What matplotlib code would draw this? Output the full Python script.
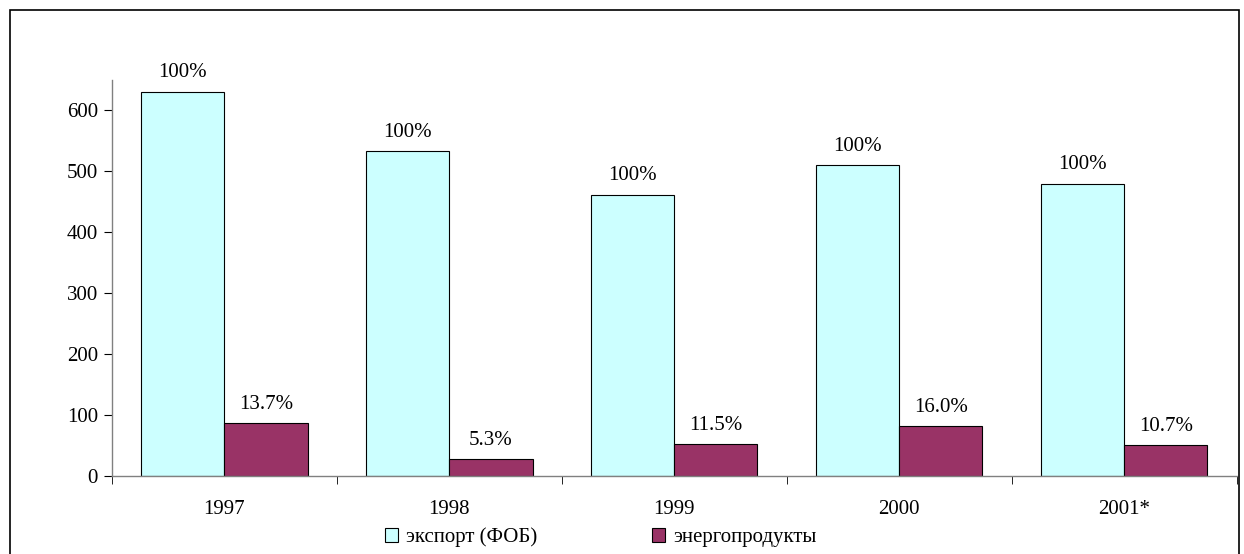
import matplotlib

matplotlib.use("Agg")
import matplotlib.pyplot as plt
from matplotlib.patches import Patch, Rectangle

years = ["1997", "1998", "1999", "2000", "2001*"]
export_fob = [631, 534, 462, 510, 480]
energy = [87, 28, 53, 82, 51]
export_labels = ["100%", "100%", "100%", "100%", "100%"]
energy_labels = ["13.7%", "5.3%", "11.5%", "16.0%", "10.7%"]

plt.rcParams["font.family"] = ["Liberation Serif", "DejaVu Serif"]
plt.rcParams["font.size"] = 15

fig = plt.figure(figsize=(12.44, 5.54), dpi=100)
ax = fig.add_axes([0.090, 0.1408, 0.904, 0.7148])

width = 0.37
x = range(len(years))
ax.bar([i - width / 2 for i in x], export_fob, width, color="#CCFFFF",
       edgecolor="black", linewidth=0.8)
ax.bar([i + width / 2 for i in x], energy, width, color="#993366",
       edgecolor="black", linewidth=0.8)

for i in x:
    ax.text(i - width / 2, export_fob[i] + 15, export_labels[i],
            ha="center", va="bottom", fontsize=15)
    ax.text(i + width / 2, energy[i] + 15, energy_labels[i],
            ha="center", va="bottom", fontsize=15)

ax.set_xlim(-0.5, len(years) - 0.5)
ax.set_ylim(0, 650)
ax.set_yticks(range(0, 700, 100))
ax.set_xticks(list(x))
ax.set_xticklabels(years)
ax.set_xticks([i - 0.5 for i in range(len(years) + 1)], minor=True)
ax.tick_params(axis="x", which="major", length=0, pad=17)
ax.tick_params(axis="x", which="minor", length=6, direction="out")
ax.tick_params(axis="y", length=6, direction="out", pad=4)

for side in ["top", "right"]:
    ax.spines[side].set_visible(False)
for side in ["left", "bottom"]:
    ax.spines[side].set_color("#808080")
    ax.spines[side].set_linewidth(1.0)

handles = [
    Patch(facecolor="#CCFFFF", edgecolor="black", linewidth=0.8, label="экспорт (ФОБ)"),
    Patch(facecolor="#993366", edgecolor="black", linewidth=0.8, label="энергопродукты"),
]
fig.legend(handles=handles, loc="center", bbox_to_anchor=(0.483, 0.03), ncol=2,
           frameon=False, handlelength=0.6, handleheight=0.6, handletextpad=0.4,
           columnspacing=5.5, fontsize=15, borderpad=0)

fig.add_artist(Rectangle((10 / 1244, -0.05), 1229 / 1244, 1.05 - 10 / 554,
                         transform=fig.transFigure, fill=False,
                         edgecolor="black", linewidth=1.2))

fig.savefig("out.png", dpi=100)
